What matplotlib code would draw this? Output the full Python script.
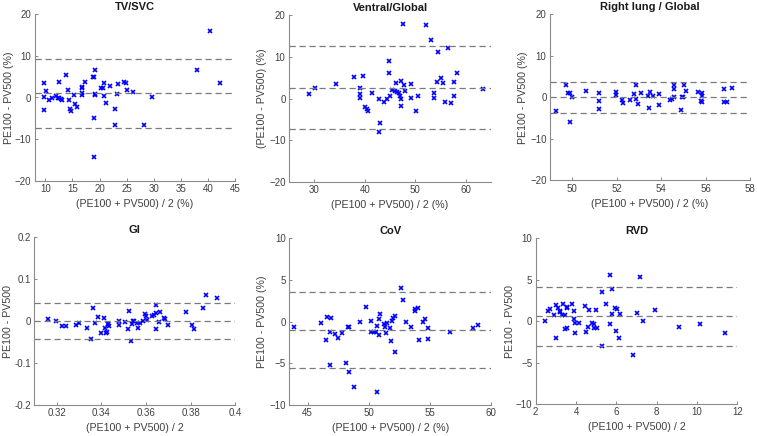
import matplotlib
matplotlib.use("Agg")
import matplotlib.pyplot as plt
import numpy as np

plt.rcParams['font.family'] = ['Liberation Sans', 'DejaVu Sans']

# ---------------- data ----------------
titles = ["TV/SVC", "Ventral/Global", "Right lung / Global", "GI", "CoV", "RVD"]
xlabels = ["(PE100 + PV500) / 2 (%)", "(PE100 + PV500) / 2 (%)", "(PE100 + PV500) / 2 (%)",
           "(PE100 + PV500) / 2", "(PE100 + PV500) / 2 (%)", "(PE100 + PV500) / 2"]
ylabels = ["PE100 - PV500 (%)", "(PE100 - PV500) (%)", "PE100 - PV500 (%)",
           "PE100 - PV500", "PE100 - PV500 (%)", "PE100 - PV500"]

tv_x = [9.8, 9.7, 9.8, 10.2, 10.7, 11.3, 11.9, 12.3, 12.6, 12.6, 12.9, 13.1, 13.8, 14.1, 14.4,
        14.5, 14.8, 15.2, 15.4, 15.9, 16.7, 16.7, 16.7, 16.7, 17.3, 18.8, 19.0, 19.1, 19.2, 19.2,
        18.9, 19.0, 20.3, 20.6, 20.9, 20.9, 21.2, 22.0, 22.9, 22.8, 23.2, 23.4, 24.5, 24.9, 25.0,
        26.2, 28.2, 29.6, 38.0, 40.4, 42.2]
tv_y = [3.5, 0.2, -3.0, 1.5, -0.6, -0.2, 0.4, -0.2, 3.6, -0.2, -0.3, -0.7, 5.4, 1.9, -0.5,
        -2.8, -3.2, 0.5, -1.6, -2.3, 2.3, 2.5, 0.7, 1.0, 3.7, 4.9, 5.0, 6.6, 0.8, 0.5,
        -4.8, -14.3, 2.2, 2.3, 3.4, 0.4, -1.2, 2.8, -2.7, -6.5, 0.8, 3.2, 3.8, 3.5, 1.9,
        1.4, -6.7, 0.2, 6.5, 16.0, 3.5]

ve_x = [29.0, 30.1, 34.4, 37.8, 39.7, 39.0, 39.0, 39.0, 40.1, 40.4, 40.6, 41.5, 42.8, 43.0, 42.8,
        43.9, 44.4, 44.8, 44.8, 45.0, 45.3, 45.9, 46.2, 46.4, 46.8, 46.9, 47.2, 47.1, 47.1, 47.5,
        47.7, 48.0, 49.2, 49.2, 50.2, 50.6, 52.1, 53.2, 53.7, 53.7, 54.4, 54.6, 55.1, 55.4, 55.8,
        56.4, 57.0, 57.6, 57.6, 58.2, 63.4]
ve_y = [1.0, 2.6, 3.5, 5.2, 5.4, 2.4, 1.0, 0.1, -2.0, -2.6, -2.9, 1.4, -0.1, -5.8, -8.1,
        -0.9, -0.1, 8.9, 6.0, 0.6, 2.1, 1.8, 3.7, 1.5, 1.4, 0.6, 4.3, -0.2, -1.7, 17.8,
        3.3, 1.7, 3.4, 0.2, -2.9, 0.6, 17.7, 14.0, 1.4, 0.1, 3.9, 11.2, 4.9, 3.7, -0.8,
        12.1, -1.1, 3.9, 0.7, 6.0, 2.2]

rl_x = [49.25, 49.7, 49.8, 49.9, 49.9, 50.0, 50.6, 51.2, 51.2, 51.2, 51.95, 51.95, 52.25, 52.3,
        52.6, 52.8, 52.85, 52.85, 52.95, 53.1, 53.45, 53.5, 53.4, 53.65, 53.9, 53.9, 54.4, 54.5,
        54.6, 54.6, 54.6, 54.9, 54.95, 55.0, 55.05, 55.1, 55.65, 55.8, 55.85, 55.85, 55.85,
        56.85, 56.85, 56.95, 57.2]
rl_y = [-3.3, 3.1, 1.2, 1.0, -5.8, 0.2, 1.5, 1.2, -0.9, -2.7, 1.3, 0.6, -0.7, -1.3,
        -0.6, 0.9, -0.3, 3.1, -1.5, 1.0, -2.5, 1.4, 0.4, 0.3, 0.8, -1.8, -0.7, -0.4,
        3.1, 2.0, 0.2, -3.1, 0.0, 0.0, 2.9, 1.6, 1.4, -0.8, 1.2, 0.4, -1.1,
        2.0, -1.2, -1.2, 2.2]

gi_x = [0.316, 0.3197, 0.3225, 0.3243, 0.3287, 0.330, 0.3338, 0.3353, 0.3363, 0.3371, 0.3383,
        0.340, 0.3411, 0.3417, 0.3419, 0.3425, 0.3428, 0.3435, 0.343, 0.3479, 0.3479, 0.3506,
        0.3518, 0.3525, 0.3534, 0.3536, 0.3542, 0.3548, 0.356, 0.3566, 0.3572, 0.3587, 0.3597,
        0.3598, 0.3604, 0.3628, 0.3636, 0.3643, 0.3646, 0.3645, 0.366, 0.3663, 0.3682, 0.3685,
        0.370, 0.378, 0.3805, 0.3816, 0.3856, 0.3871, 0.3918]
gi_y = [0.0056, 0.0, -0.012, -0.011, -0.0096, -0.005, -0.017, -0.042, 0.030, -0.004, 0.0096,
        -0.029, 0.0072, -0.017, -0.028, -0.025, -0.008, -0.012, -0.006, 0.0, -0.0096, -0.003,
        -0.018, 0.025, -0.048, -0.008, 0.0, 0.0, -0.0056, -0.016, -0.004, 0.0, 0.016,
        0.013, 0.003, 0.011, 0.015, 0.018, 0.039, -0.018, -0.0024, 0.022, 0.0064, 0.004,
        -0.009, 0.022, -0.009, -0.018, 0.032, 0.062, 0.054]

cov_x = [43.9, 46.1, 46.5, 46.6, 46.8, 46.8, 46.9, 47.2, 47.5, 47.8, 48.1, 48.3, 48.4, 48.4, 48.8,
         49.3, 49.8, 50.2, 50.2, 50.4, 50.6, 50.7, 50.7, 50.8, 50.8, 50.9, 51.2, 51.3, 51.4, 51.5,
         51.7, 51.8, 51.9, 52.0, 52.1, 52.1, 52.6, 52.8, 53.0, 53.4, 53.8, 53.8, 54.0, 54.1, 54.4,
         54.6, 54.8, 54.8, 56.6, 58.5, 58.9]
cov_y = [-0.7, -0.2, -2.2, 0.5, -5.2, -1.3, 0.4, -1.5, -2.0, -1.4, -5.0, -0.7, -0.6, -6.1, -7.8,
         -0.1, 1.7, 0.1, -1.2, -1.3, -1.3, -0.5, -8.5, 0.3, -1.6, 0.9, -0.3, -0.6, -1.4, -0.2,
         -0.8, -2.3, 0.1, 0.4, 0.7, -3.6, 4.0, 2.6, 0.0, -0.6, 1.3, 1.5, 1.6, -2.2, -0.1,
         0.3, -2.1, -0.8, -1.2, -0.8, -0.4]

rvd_x = [2.45, 2.6, 2.7, 2.9, 3.0, 3.0, 3.1, 3.2, 3.2, 3.3, 3.35, 3.45, 3.45, 3.55, 3.55, 3.55,
         3.8, 3.9, 3.9, 3.95, 3.95, 4.15, 4.45, 4.5, 4.6, 4.65, 4.8, 4.9, 4.9, 5.0, 5.05, 5.3,
         5.3, 5.5, 5.7, 5.7, 5.8, 5.8, 5.95, 6.0, 6.05, 6.15, 6.2, 6.85, 7.0, 7.15, 7.3, 7.9,
         9.1, 10.15, 11.4]
rvd_y = [0.0, 1.2, 1.4, 0.7, 1.9, -2.0, 1.6, 1.2, 1.1, 0.7, 2.1, 0.7, -1.0, 1.7, 1.6, -0.9,
         2.0, 1.2, 0.3, -0.3, -1.4, -0.2, 1.8, -1.3, -0.7, 1.3, -0.3, -0.4, -0.8, 1.3, -0.8, 3.5,
         -3.0, 2.1, 5.5, -0.4, 3.9, 0.9, 1.6, -1.2, 1.4, -2.0, 0.8, -4.1, 1.0, 5.3, 0.0, 1.3,
         -0.7, -0.4, -1.4]

# bias and limits of agreement (lower, mean, upper)
tv_lines = [-7.4, 1.0, 9.3]
ve_lines = [-7.3, 2.6, 12.5]
rl_lines = [-3.85, 0.0, 3.85]
gi_lines = [-0.042, 0.0, 0.042]
cov_lines = [-5.6, -1.0, 3.5]
rvd_lines = [-3.0, 0.55, 4.1]

xlims = [(8, 45), (25, 65), (49, 58), (0.31, 0.40), (43.5, 60), (2, 12)]
ylims = [(-20, 20), (-20, 20), (-20, 20), (-0.2, 0.2), (-10, 10), (-10, 10)]
xticks = [[10, 15, 20, 25, 30, 35, 40, 45], [30, 40, 50, 60], [50, 52, 54, 56, 58],
          [0.32, 0.34, 0.36, 0.38, 0.40], [45, 50, 55, 60], [2, 4, 6, 8, 10, 12]]
xticklabels = [None, None, None, ["0.32", "0.34", "0.36", "0.38", "0.4"], None, None]
yticks = [[-20, -10, 0, 10, 20], [-20, -10, 0, 10, 20], [-20, -10, 0, 10, 20],
          [-0.2, -0.1, 0, 0.1, 0.2], [-10, -5, 0, 5, 10], [-10, -5, 0, 5, 10]]
yticklabels = [None, None, None, ["-0.2", "-0.1", "0", "0.1", "0.2"], None, None]

xs = [tv_x, ve_x, rl_x, gi_x, cov_x, rvd_x]
ys = [tv_y, ve_y, rl_y, gi_y, cov_y, rvd_y]
lines = [tv_lines, ve_lines, rl_lines, gi_lines, cov_lines, rvd_lines]

# ---------------- layout (pixels: left, right, top, bottom) ----------------
W, H = 757, 436
boxes = [(34.5, 235, 14, 181), (289, 491, 15, 182), (550, 750, 14.5, 180.5),
         (34.3, 235.3, 237, 405), (289.3, 491.3, 238, 405), (535.7, 737.3, 238, 404)]
ylabel_offsets = [-26, -27, -27, -26, -27, -26]

fig = plt.figure(figsize=(W / 100, H / 100), dpi=100)
axis_col = '#8a8a8a'
text_col = '#404040'

for i in range(6):
    l, r, t, b = boxes[i]
    ax = fig.add_axes([l / W, 1 - b / H, (r - l) / W, (b - t) / H])
    ax.plot(xs[i], ys[i], 'x', color='#0000ff', markersize=3.0, markeredgewidth=1.2)
    for v in lines[i]:
        ax.axhline(v, color='#7a7a7a', lw=0.9, linestyle=(0, (5, 3)))
    ax.set_xlim(*xlims[i])
    ax.set_ylim(*ylims[i])
    ax.set_xticks(xticks[i])
    ax.set_yticks(yticks[i])
    if xticklabels[i]:
        ax.set_xticklabels(xticklabels[i])
    if yticklabels[i]:
        ax.set_yticklabels(yticklabels[i])
    for s in ['top', 'right']:
        ax.spines[s].set_visible(False)
    for s in ['left', 'bottom']:
        ax.spines[s].set_color(axis_col)
        ax.spines[s].set_linewidth(0.8)
    ax.tick_params(direction='in', length=2.5, width=0.7, color=axis_col,
                   labelsize=7, labelcolor=text_col, pad=2.5)
    ax.set_title(titles[i], fontsize=8, fontweight='bold', color='#1a1a1a', pad=3)
    ax.set_xlabel(xlabels[i], fontsize=7.7, color=text_col, labelpad=3.5)
    ax.set_ylabel(ylabels[i], fontsize=7.7, color=text_col, va='center')
    ax.yaxis.set_label_coords(ylabel_offsets[i] / (r - l), 0.5)

fig.savefig("out.png", dpi=100)
